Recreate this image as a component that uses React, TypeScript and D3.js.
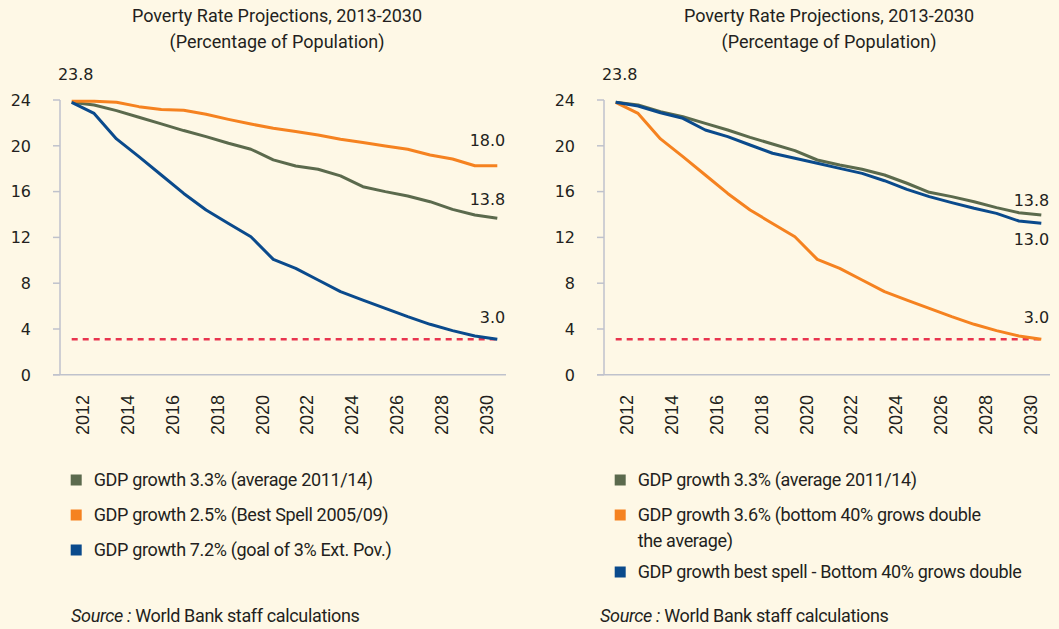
import React from 'react'
import * as d3 from 'd3'

// categories
const years = [2012, 2013, 2014, 2015, 2016, 2017, 2018, 2019, 2020, 2021, 2022, 2023, 2024, 2025, 2026, 2027, 2028, 2029, 2030, 2031]
const tickYears = [2012, 2014, 2016, 2018, 2020, 2022, 2024, 2026, 2028, 2030]
const yTicks = [0, 4, 8, 12, 16, 20, 24]
const povertyGoal = 3.1

// left panel series
const leftAverage = [23.8, 23.56, 23.07, 22.49, 21.91, 21.33, 20.8, 20.22, 19.7, 18.77, 18.24, 17.95, 17.37, 16.43, 16.0, 15.62, 15.12, 14.45, 13.96, 13.67]
const leftBestSpell = [23.9, 23.9, 23.8, 23.42, 23.18, 23.1, 22.75, 22.31, 21.9, 21.53, 21.24, 20.94, 20.57, 20.28, 19.99, 19.7, 19.2, 18.85, 18.26, 18.26]
const leftGoal = [23.8, 22.83, 20.6, 19.05, 17.45, 15.84, 14.39, 13.22, 12.06, 10.08, 9.3, 8.28, 7.26, 6.53, 5.8, 5.08, 4.41, 3.86, 3.39, 3.1]

// right panel series
const rightAverage = [23.8, 23.56, 22.98, 22.54, 21.96, 21.38, 20.74, 20.16, 19.58, 18.76, 18.32, 17.95, 17.45, 16.73, 15.94, 15.56, 15.12, 14.6, 14.16, 13.96]
const rightBottom40 = [23.8, 22.83, 20.6, 19.05, 17.45, 15.84, 14.39, 13.22, 12.06, 10.08, 9.3, 8.28, 7.26, 6.53, 5.8, 5.08, 4.41, 3.86, 3.39, 3.1]
const rightBestSpell = [23.8, 23.48, 22.89, 22.4, 21.38, 20.8, 20.07, 19.35, 18.91, 18.47, 18.03, 17.59, 16.95, 16.19, 15.56, 15.04, 14.54, 14.1, 13.43, 13.23]

const GREEN = '#5b6a4d'
const ORANGE = '#f58220'
const BLUE = '#0a4a8c'
const RED = '#e8344e'
const AXIS = '#bfc2cc'
const INK = '#231f20'
const BG = '#fef8e6'

const numFont = '"DejaVu Sans", sans-serif'
const tickFont = '"Liberation Sans", Arial, sans-serif'
const textFont = 'Roboto, sans-serif'

const y = d3.scaleLinear().domain([0, 24]).range([374.8, 100])

type Series = { values: number[]; color: string; label: string[]; end: string; endDy: number }

type PanelProps = { left: number; titleX: number; sourceX: number; series: Series[]; legendRows: number[] }

const Panel = ({ left, titleX, sourceX, series, legendRows }: PanelProps) => {
  const axisX = left + 60
  const x = d3.scalePoint<number>().domain(years).range([left + 71.7, left + 497.3])
  const half = x.step() / 2
  const line = d3.line<number>().x((_, i) => x(years[i]) as number).y(d => y(d))
  const x0 = x(years[0]) as number
  const x1 = x(years[years.length - 1]) as number

  return (
    <g>
      <text x={titleX} y={22} textAnchor="middle" fontFamily={textFont} fontSize={18} fill={INK}>
        Poverty Rate Projections, 2013-2030
      </text>
      <text x={titleX} y={48} textAnchor="middle" fontFamily={textFont} fontSize={18} fill={INK}>
        (Percentage of Population)
      </text>

      {/* y axis */}
      <line x1={axisX} x2={axisX} y1={y(24)} y2={y(0)} stroke={AXIS} strokeWidth={1.5} />
      {yTicks.map(t => (
        <g key={t}>
          <line x1={axisX - 7} x2={axisX} y1={y(t)} y2={y(t)} stroke={AXIS} strokeWidth={1.5} />
          <text x={axisX - 29} y={y(t)} dy="0.36em" textAnchor="end" fontFamily={numFont} fontSize={16} fill={INK}>
            {t}
          </text>
        </g>
      ))}
      <line x1={axisX - 7} x2={left + 506} y1={y(0)} y2={y(0)} stroke={AXIS} strokeWidth={1.5} />

      {/* x tick labels */}
      {tickYears.map(t => (
        <text
          key={t}
          transform={`translate(${(x(t) as number) + half},395) rotate(-90)`}
          dy="0.36em"
          textAnchor="end"
          fontFamily={tickFont}
          fontSize={18}
          fill={INK}
        >
          {t}
        </text>
      ))}

      {/* 3% goal */}
      <line x1={x0} x2={x1} y1={y(povertyGoal)} y2={y(povertyGoal)} stroke={RED} strokeWidth={2.5} strokeDasharray="6,5" />

      {series.map((s, i) => (
        <path key={i} d={line(s.values) as string} fill="none" stroke={s.color} strokeWidth={3} strokeLinejoin="round" />
      ))}

      <text x={x0 + 4} y={80} textAnchor="middle" fontFamily={numFont} fontSize={16} fill={INK}>
        23.8
      </text>
      {series.map((s, i) => (
        <text key={i} x={x1 + 8} y={y(s.values[s.values.length - 1]) + s.endDy} textAnchor="end" fontFamily={numFont} fontSize={16} fill={INK}>
          {s.end}
        </text>
      ))}

      {/* legend */}
      {series.map((s, i) => {
        const cy = legendRows[i]
        return (
          <g key={i}>
            <rect x={x0 - 1} y={cy - 5.5} width={11} height={11} fill={s.color} />
            {s.label.map((l, j) => (
              <text key={j} x={x0 + 22} y={cy + 6 + j * 26} fontFamily={textFont} fontSize={18} letterSpacing={-0.35} fill={INK}>
                {l}
              </text>
            ))}
          </g>
        )
      })}

      <text x={sourceX} y={622} fontFamily={textFont} fontSize={18} letterSpacing={-0.35} fill={INK}>
        <tspan fontStyle="italic">Source :</tspan> World Bank staff calculations
      </text>
    </g>
  )
}

export default function App() {
  const leftSeries: Series[] = [
    { values: leftAverage, color: GREEN, label: ['GDP growth 3.3% (average 2011/14)'], end: '13.8', endDy: -13 },
    { values: leftBestSpell, color: ORANGE, label: ['GDP growth 2.5% (Best Spell 2005/09)'], end: '18.0', endDy: -20 },
    { values: leftGoal, color: BLUE, label: ['GDP growth 7.2% (goal of 3% Ext. Pov.)'], end: '3.0', endDy: -16 }
  ]
  const rightSeries: Series[] = [
    { values: rightAverage, color: GREEN, label: ['GDP growth 3.3% (average 2011/14)'], end: '13.8', endDy: -9 },
    { values: rightBottom40, color: ORANGE, label: ['GDP growth 3.6% (bottom 40% grows double', 'the average)'], end: '3.0', endDy: -16 },
    { values: rightBestSpell, color: BLUE, label: ['GDP growth best spell - Bottom 40% grows double'], end: '13.0', endDy: 22 }
  ]
  return (
    <svg width={1059} height={629} style={{ position: 'absolute', left: 0, top: 0, display: 'block' }}>
      <rect width={1059} height={629} fill={BG} />
      <Panel left={0} titleX={277} sourceX={71} series={leftSeries} legendRows={[480, 515, 550]} />
      <Panel left={544} titleX={829} sourceX={600} series={rightSeries} legendRows={[480, 515, 572]} />
    </svg>
  )
}
